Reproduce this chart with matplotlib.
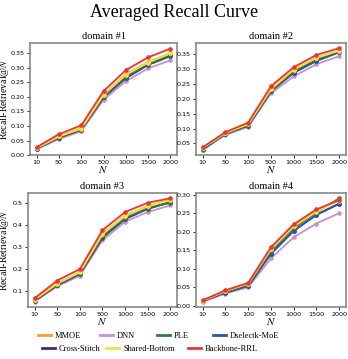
import matplotlib
matplotlib.use("Agg")
import matplotlib.pyplot as plt
from matplotlib.lines import Line2D

plt.rcParams['mathtext.fontset'] = 'stix'

x_labels = ['10', '50', '100', '500', '1000', '1500', '2000']
domains = ['domain #1', 'domain #2', 'domain #3', 'domain #4']
methods = ['MMOE', 'DNN', 'PLE', 'Dselectk-MoE', 'Cross-Stitch', 'Shared-Bottom', 'Backbone-RRL']
colors = {'MMOE': '#ff9933', 'DNN': '#c88fd0', 'PLE': '#2f7d3b', 'Dselectk-MoE': '#2b55aa',
          'Cross-Stitch': '#3d2b7e', 'Shared-Bottom': '#f2e23c', 'Backbone-RRL': '#ee3333'}

d1 = {
    'Backbone-RRL': [0.027, 0.072, 0.102, 0.220, 0.292, 0.336, 0.366],
    'MMOE': [0.024, 0.065, 0.092, 0.208, 0.278, 0.320, 0.350],
    'Shared-Bottom': [0.024, 0.064, 0.091, 0.207, 0.276, 0.318, 0.350],
    'PLE': [0.023, 0.062, 0.089, 0.203, 0.270, 0.314, 0.343],
    'Dselectk-MoE': [0.022, 0.061, 0.088, 0.200, 0.266, 0.312, 0.342],
    'Cross-Stitch': [0.022, 0.060, 0.087, 0.198, 0.264, 0.310, 0.340],
    'DNN': [0.020, 0.055, 0.082, 0.190, 0.254, 0.298, 0.326],
}
d2 = {
    'Backbone-RRL': [0.037, 0.088, 0.120, 0.242, 0.306, 0.347, 0.370],
    'MMOE': [0.035, 0.085, 0.115, 0.233, 0.298, 0.338, 0.362],
    'Shared-Bottom': [0.035, 0.085, 0.115, 0.232, 0.298, 0.337, 0.362],
    'PLE': [0.033, 0.083, 0.112, 0.228, 0.292, 0.332, 0.360],
    'Dselectk-MoE': [0.028, 0.082, 0.111, 0.226, 0.288, 0.328, 0.356],
    'Cross-Stitch': [0.032, 0.082, 0.110, 0.225, 0.287, 0.327, 0.357],
    'DNN': [0.034, 0.078, 0.106, 0.218, 0.275, 0.316, 0.343],
}
d3 = {
    'Backbone-RRL': [0.068, 0.148, 0.200, 0.376, 0.458, 0.500, 0.520],
    'MMOE': [0.062, 0.135, 0.186, 0.360, 0.442, 0.485, 0.512],
    'Shared-Bottom': [0.062, 0.134, 0.186, 0.358, 0.440, 0.484, 0.512],
    'PLE': [0.060, 0.130, 0.182, 0.348, 0.432, 0.476, 0.500],
    'Dselectk-MoE': [0.058, 0.128, 0.180, 0.344, 0.428, 0.474, 0.504],
    'Cross-Stitch': [0.057, 0.127, 0.178, 0.342, 0.426, 0.472, 0.502],
    'DNN': [0.052, 0.122, 0.170, 0.330, 0.414, 0.458, 0.488],
}
d4 = {
    'Backbone-RRL': [0.015, 0.042, 0.062, 0.158, 0.220, 0.260, 0.285],
    'MMOE': [0.014, 0.040, 0.060, 0.154, 0.216, 0.256, 0.286],
    'Shared-Bottom': [0.014, 0.040, 0.060, 0.152, 0.214, 0.254, 0.284],
    'PLE': [0.013, 0.038, 0.057, 0.148, 0.210, 0.252, 0.290],
    'Dselectk-MoE': [0.013, 0.037, 0.055, 0.142, 0.203, 0.246, 0.276],
    'Cross-Stitch': [0.013, 0.036, 0.054, 0.140, 0.202, 0.245, 0.275],
    'DNN': [0.011, 0.033, 0.050, 0.128, 0.185, 0.222, 0.250],
}
data = [d1, d2, d3, d4]
draw_order = ['DNN', 'Cross-Stitch', 'Dselectk-MoE', 'PLE', 'MMOE', 'Shared-Bottom', 'Backbone-RRL']

W, H = 348, 359
fig = plt.figure(figsize=(W / 100, H / 100), dpi=100)
positions = [
    [0.086, 0.568, 0.423, 0.312],
    [0.563, 0.568, 0.431, 0.312],
    [0.080, 0.145, 0.429, 0.317],
    [0.563, 0.145, 0.431, 0.317],
]
serif = 'Liberation Serif'
xs = list(range(len(x_labels)))
for i, (pos, dd, title) in enumerate(zip(positions, data, domains)):
    ax = fig.add_axes(pos)
    for m in draw_order:
        ax.plot(xs, dd[m], color=colors[m], lw=1.3, marker='o', ms=2.3)
    ax.set_xticks(xs)
    ax.set_xticklabels(x_labels)
    ax.tick_params(labelsize=4.6, length=2, width=0.6, pad=1.5)
    if i == 0:
        ax.set_ylim(0, 0.385)
    ax.set_title(title, fontsize=7.5, family=serif, pad=3)
    ax.set_xlabel('$N$', fontsize=8, labelpad=-0.5)
    if i in (0, 2):
        ax.set_ylabel('Recall-Retrieval@$N$', fontsize=7, family=serif)
        left_px = pos[0] * W
        ax.yaxis.set_label_coords((11.5 - left_px) / (pos[2] * W), 0.5)
    for s in ax.spines.values():
        s.set_color('#888888')
        s.set_linewidth(1.2)

fig.suptitle('Averaged Recall Curve', fontsize=13, family=serif, y=0.99)

# legend entries: (method, handle-left px, row-center px from top)
leg_rows = [
    ('MMOE', 38, 336), ('DNN', 100, 336), ('PLE', 157, 336), ('Dselectk-MoE', 213, 336),
    ('Cross-Stitch', 42, 349), ('Shared-Bottom', 106, 349), ('Backbone-RRL', 188, 349),
]
for m, xp, yp in leg_rows:
    h = Line2D([], [], color=colors[m], lw=2)
    lg = fig.legend([h], [m], loc='center left', bbox_to_anchor=(xp / W, 1 - yp / H),
                    frameon=False, prop={'family': serif, 'size': 6}, handlelength=1.6,
                    handletextpad=0.45, borderpad=0, borderaxespad=0)

fig.savefig('out.png', dpi=100)
